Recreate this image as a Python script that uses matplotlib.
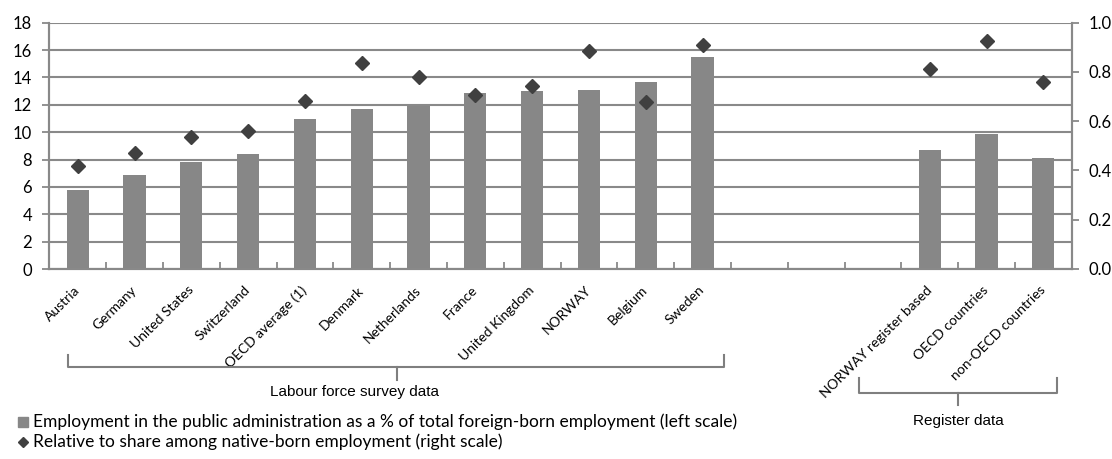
import matplotlib
matplotlib.use("Agg")
import matplotlib.pyplot as plt
import matplotlib.transforms as mtrans
from matplotlib.lines import Line2D
import numpy as np

# ---- data ----
lfs_labels = ["Austria", "Germany", "United States", "Switzerland", "OECD average (1)",
              "Denmark", "Netherlands", "France", "United Kingdom", "NORWAY", "Belgium", "Sweden"]
lfs_share = [5.8, 6.9, 7.8, 8.4, 10.95, 11.7, 11.9, 12.85, 13.0, 13.1, 13.7, 15.5]
lfs_ratio = [0.418, 0.470, 0.534, 0.561, 0.684, 0.835, 0.781, 0.706, 0.741, 0.884, 0.680, 0.909]

reg_labels = ["NORWAY register based", "OECD countries", "non-OECD countries"]
reg_share = [8.7, 9.9, 8.1]
reg_ratio = [0.812, 0.924, 0.758]

left_ticks = [0, 2, 4, 6, 8, 10, 12, 14, 16, 18]
right_ticks = [0.0, 0.2, 0.4, 0.6, 0.8, 1.0]

legend_bar = "Employment in the public administration as a % of total foreign-born employment (left scale)"
legend_dot = "Relative to share among native-born employment (right scale)"
group_lfs = "Labour force survey data"
group_reg = "Register data"

# ---- style ----
W, H = 1112, 459
BAR = "#878787"
DOT = "#404040"
GRID = "#898989"
FONT = "Lato"
ARIAL = "Liberation Sans"

fig = plt.figure(figsize=(W / 100, H / 100), dpi=100)
L, R, T, B = 49.3, 1071.7, 22.7, 269.0
ax = fig.add_axes([L / W, 1 - B / H, (R - L) / W, (B - T) / H])
ax2 = ax.twinx()

gap = 3
x_lfs = np.arange(len(lfs_labels))
x_reg = np.arange(len(reg_labels)) + len(lfs_labels) + gap
n_slots = len(lfs_labels) + gap + len(reg_labels)

ax.bar(x_lfs, lfs_share, width=0.39, color=BAR, zorder=3)
ax.bar(x_reg, reg_share, width=0.39, color=BAR, zorder=3)
ax.set_xlim(-0.5, n_slots - 0.5)
ax.set_ylim(0, 18)
ax.set_yticks(left_ticks)
ax.yaxis.grid(True, color=GRID, linewidth=1.5, zorder=0)
ax.set_axisbelow(True)

ax2.plot(x_lfs, lfs_ratio, linestyle="none", marker="D", markersize=7.5, color=DOT, zorder=4)
ax2.plot(x_reg, reg_ratio, linestyle="none", marker="D", markersize=7.5, color=DOT, zorder=4)
ax2.set_ylim(0, 1.0)
ax2.set_yticks(right_ticks)
ax2.set_yticklabels([f"{t:.1f}" for t in right_ticks])

for a in (ax, ax2):
    for s in a.spines.values():
        s.set_color(GRID)
        s.set_linewidth(1.5)
    a.spines["top"].set_visible(False)

ax.tick_params(axis="y", direction="out", length=4.8, width=1.3, color=GRID,
               labelsize=12, pad=7.5)
ax2.tick_params(axis="y", direction="out", length=4.8, width=1.3, color=GRID,
                labelsize=12, pad=7.5)
for lab in ax.get_yticklabels() + ax2.get_yticklabels():
    lab.set_fontfamily(FONT)

# x ticks at boundaries (inward), labels as rotated texts
ax.set_xticks(np.arange(0, n_slots) - 0.5)
ax.set_xticklabels([])
ax.tick_params(axis="x", direction="in", length=5, width=1.3, color=GRID)

trans = mtrans.blended_transform_factory(ax.transData, ax.transAxes)
off = mtrans.ScaledTranslation(0.0, -0.19, fig.dpi_scale_trans)
for xi, lab in list(zip(x_lfs, lfs_labels)) + list(zip(x_reg, reg_labels)):
    ax.text(xi, 0, lab, transform=trans + off,
            rotation=45, ha="right", va="center", rotation_mode="anchor",
            fontsize=10, fontfamily=FONT, color="black")

# ---- brackets (pixel coords) ----
def px(x, y):
    return x / W, 1 - y / H

def bracket(x0, x1, ytop, yh, xc, ybot):
    pts = [px(x0, ytop), px(x0, yh), px(x1, yh), px(x1, ytop)]
    fig.add_artist(Line2D([p[0] for p in pts], [p[1] for p in pts], color="#7f7f7f",
                          linewidth=1.5, solid_joinstyle="round"))
    a, b = px(xc, yh), px(xc, ybot)
    fig.add_artist(Line2D([a[0], b[0]], [a[1], b[1]], color="#7f7f7f", linewidth=1.5))

bracket(68, 724, 355, 367, 397, 380)
bracket(859, 1057, 378, 393, 958, 405)
fig.text(*px(355, 392), group_lfs, ha="center", va="center", fontsize=11, fontfamily=ARIAL)
fig.text(*px(958, 421.5), group_reg, ha="center", va="center", fontsize=11, fontfamily=ARIAL)

# ---- legend ----
fig.add_artist(Line2D([px(22.5, 0)[0]], [px(0, 422)[1]], marker="s", markersize=7.5,
                      color=BAR, linestyle="none"))
fig.text(*px(33, 422), legend_bar, ha="left", va="center", fontsize=12.5, fontfamily=FONT)
fig.add_artist(Line2D([px(22.5, 0)[0]], [px(0, 441.5)[1]], marker="D", markersize=5,
                      color=DOT, linestyle="none"))
fig.text(*px(33, 441.5), legend_dot, ha="left", va="center", fontsize=12.5, fontfamily=FONT)

fig.savefig("out.png", dpi=100)
